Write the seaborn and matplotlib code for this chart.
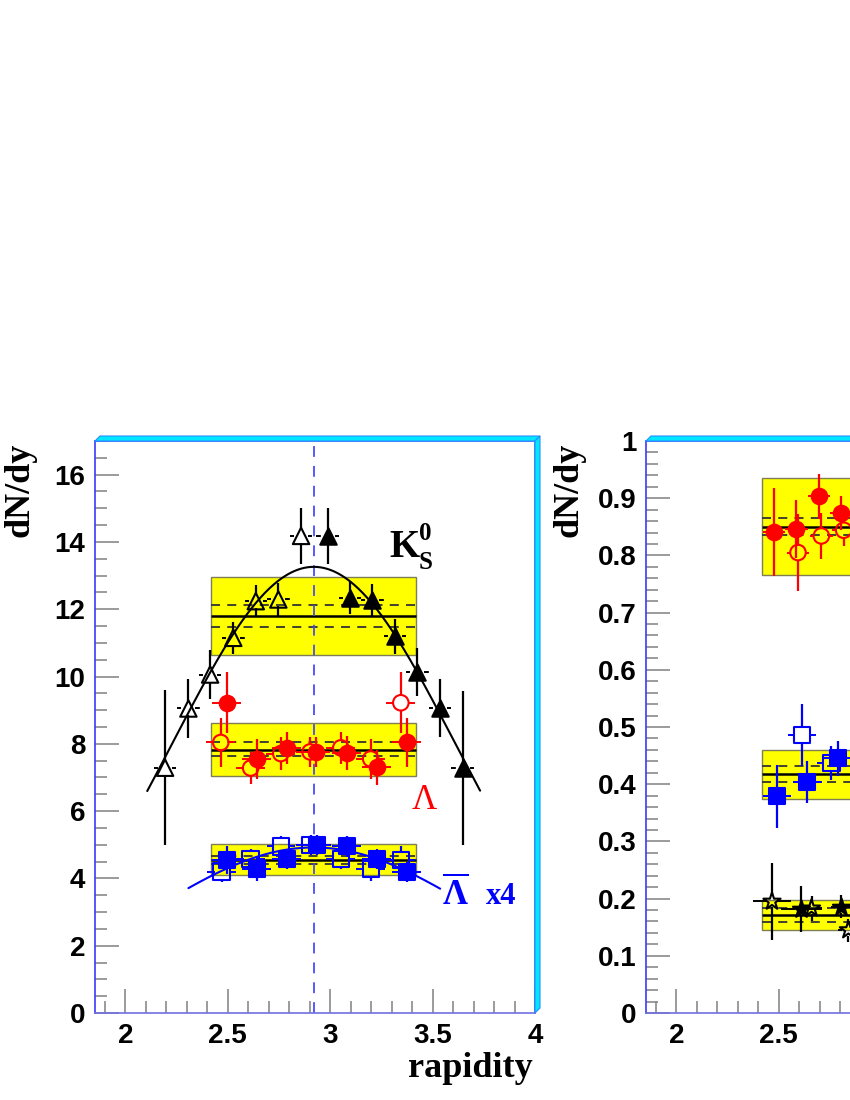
import matplotlib
matplotlib.use("Agg")
import matplotlib.pyplot as plt
import matplotlib.patches as mpatches
from matplotlib.ticker import MultipleLocator, FuncFormatter
import numpy as np
import pandas as pd
import seaborn as sns

# ---- left panel: K0s, Lambda, anti-Lambda x4 ----
k0_fill_x = [2.988, 3.097, 3.206, 3.317, 3.426, 3.537, 3.647]
k0_fill_y = [14.18, 12.34, 12.27, 11.20, 10.13, 9.07, 7.28]
k0_fill_err = [0.84, 0.47, 0.47, 0.52, 0.72, 0.87, 2.30]
k0_open_x = [2.194, 2.308, 2.414, 2.527, 2.637, 2.747, 2.858]
k0_open_y = [7.29, 9.05, 10.06, 11.15, 12.24, 12.29, 14.18]
k0_open_err = [2.30, 0.87, 0.72, 0.47, 0.47, 0.50, 0.84]

lam_fill_x = [2.495, 2.642, 2.788, 2.931, 3.081, 3.227, 3.374]
lam_fill_y = [9.22, 7.55, 7.88, 7.76, 7.73, 7.30, 8.04]
lam_fill_err = [0.90, 0.60, 0.47, 0.45, 0.50, 0.52, 0.74]
lam_open_x = [2.466, 2.612, 2.759, 2.902, 3.052, 3.198, 3.345]
lam_open_y = [8.04, 7.28, 7.71, 7.76, 7.88, 7.55, 9.22]
lam_open_err = [0.74, 0.47, 0.50, 0.45, 0.47, 0.60, 0.90]

alam_fill_x = [2.495, 2.642, 2.788, 2.934, 3.081, 3.227, 3.374]
alam_fill_y = [4.55, 4.28, 4.57, 5.00, 4.95, 4.58, 4.20]
alam_fill_err = [0.42, 0.35, 0.30, 0.30, 0.30, 0.30, 0.30]
alam_open_x = [2.470, 2.612, 2.760, 2.905, 3.052, 3.198, 3.345]
alam_open_y = [4.20, 4.58, 4.95, 5.00, 4.57, 4.28, 4.55]
alam_open_err = [0.30, 0.30, 0.30, 0.30, 0.30, 0.35, 0.42]

# bands: (low, high, mean, dashed low, dashed high)
k0_band = (10.63, 12.97, 11.80, 11.48, 12.12)
lam_band = (7.05, 8.62, 7.83, 7.63, 8.04)
alam_band = (4.09, 5.03, 4.55, 4.43, 4.68)
band_x = (2.42, 3.42)

# gaussian fits (amplitude, centre, sigma, x range)
k0_fit = (13.26, 2.92, 0.688, 2.107, 3.732)
alam_fit = (4.92, 2.92, 0.815, 2.308, 3.537)
mid_rapidity = 2.92

# ---- right panel (only partly visible) ----
xi_fill_x = [2.476, 2.586, 2.697, 2.806]
xi_fill_y = [0.841, 0.846, 0.903, 0.874]
xi_fill_err = [0.077, 0.050, 0.040, 0.030]
xi_open_x = [2.594, 2.708, 2.817]
xi_open_y = [0.805, 0.834, 0.844]
xi_open_err = [0.068, 0.040, 0.028]

axi_fill_x = [2.492, 2.640, 2.787]
axi_fill_y = [0.379, 0.404, 0.445]
axi_fill_err = [0.055, 0.037, 0.030]
axi_open_x = [2.614, 2.757]
axi_open_y = [0.486, 0.437]
axi_open_err = [0.055, 0.030]

om_fill_x = [2.611, 2.803]
om_fill_y = [0.182, 0.186]
om_fill_err = [0.040, 0.020]
om_fill_xerr = [0.10, 0.05]
om_open_x = [2.467, 2.660, 2.840]
om_open_y = [0.195, 0.183, 0.145]
om_open_err = [0.067, 0.022, 0.020]
om_open_xerr = [0.094, 0.05, 0.05]

xi_band = (0.766, 0.935, 0.850, 0.836, 0.866)
axi_band = (0.375, 0.459, 0.417, 0.403, 0.432)
om_band = (0.145, 0.198, 0.171, 0.159, 0.183)

sns.set_style("ticks")
plt.rcParams["font.family"] = ["Liberation Sans", "DejaVu Sans"]
plt.rcParams["font.weight"] = "bold"
plt.rcParams["text.color"] = "black"
plt.rcParams["mathtext.fontset"] = "custom"
plt.rcParams["mathtext.rm"] = "Liberation Serif"
plt.rcParams["mathtext.bf"] = "Liberation Serif:bold"
SERIF = ["Liberation Serif", "DejaVu Serif"]

W, H = 850, 1100
fig = plt.figure(figsize=(W / 100, H / 100), dpi=100)


def px_axes(x0, x1, ytop, ybot):
    return fig.add_axes([x0 / W, 1 - ybot / H, (x1 - x0) / W, (ybot - ytop) / H])


def draw_band(ax, band, zorder=1):
    lo, hi, mean, dlo, dhi = band
    ax.add_patch(mpatches.Rectangle((band_x[0], lo), band_x[1] - band_x[0], hi - lo,
                                    facecolor="#ffff00", edgecolor="#7f7f55", lw=1.0, zorder=zorder))
    ax.hlines(mean, *band_x, colors="black", lw=1.8, zorder=zorder + 0.1)
    ax.hlines([dlo, dhi], *band_x, colors="#333333", lw=1.3, linestyles=(0, (5, 4)), zorder=zorder + 0.1)


def points(ax, x, y, yerr, color, marker, filled, size, xerr=0.07, xdash=False, gap_px=7):
    x = np.asarray(x, float)
    y = np.asarray(y, float)
    yerr = np.asarray(yerr, float)
    xe = np.full(len(x), xerr) if np.isscalar(xerr) else np.asarray(xerr, float)
    # bars stop at the marker edge (ROOT style)
    bb = ax.get_position()
    x0, x1 = ax.get_xlim()
    y0, y1 = ax.get_ylim()
    gx = gap_px * (x1 - x0) / (bb.width * W)
    gy = gap_px * (y1 - y0) / (bb.height * H)
    ax.vlines(x, y + gy, y + np.maximum(yerr, gy), colors=color, lw=1.6, zorder=4)
    ax.vlines(x, y - np.maximum(yerr, gy), y - gy, colors=color, lw=1.6, zorder=4)
    ls = (0, (2.5, 2)) if xdash else "solid"
    ax.hlines(y, x + gx, x + np.maximum(xe, gx), colors=color, lw=1.4, linestyles=ls, zorder=4)
    ax.hlines(y, x - np.maximum(xe, gx), x - gx, colors=color, lw=1.4, linestyles=ls, zorder=4)
    df = pd.DataFrame({"x": x, "y": y})
    sns.scatterplot(data=df, x="x", y="y", ax=ax, marker=marker, s=size,
                    facecolor=color if filled else "none", edgecolor=color,
                    linewidth=1.5, zorder=5, legend=False)


def gauss_curve(ax, fit, color):
    amp, mu, sig, lo, hi = fit
    xs = np.linspace(lo, hi, 300)
    sns.lineplot(x=xs, y=amp * np.exp(-(xs - mu) ** 2 / (2 * sig ** 2)), ax=ax,
                 color=color, lw=1.5, zorder=3)


def style_axes(ax, ymax, ymajor, yminor, xlab_max=4.01):
    ax.set_xlim(1.852, 4.0)
    ax.set_ylim(0, ymax)
    ax.xaxis.set_major_locator(MultipleLocator(0.5))
    ax.xaxis.set_minor_locator(MultipleLocator(0.1))
    ax.yaxis.set_major_locator(MultipleLocator(ymajor))
    ax.yaxis.set_minor_locator(MultipleLocator(yminor))
    ax.xaxis.set_major_formatter(FuncFormatter(lambda v, p: f"{v:g}" if v < xlab_max else ""))
    ax.yaxis.set_major_formatter(FuncFormatter(lambda v, p: f"{v:g}"))
    ax.tick_params(which="major", direction="in", length=17, width=1.2, color="#8a8a8a",
                   labelcolor="black", labelsize=20, pad=7, top=False, right=False)
    ax.tick_params(which="minor", direction="in", length=8.5, width=1.2, color="#8a8a8a",
                   top=False, right=False)
    ax.spines["left"].set_color("#3a3aff")
    ax.spines["bottom"].set_color("#7070e0")
    ax.spines["top"].set_color("#3a6aff")
    ax.spines["right"].set_color("#3a6aff")
    for s in ax.spines.values():
        s.set_linewidth(1.2)


def finish_axes(ax):
    ax.set_xlabel("")
    ax.set_ylabel("")
    for lab in ax.get_xticklabels() + ax.get_yticklabels():
        lab.set_fontweight("bold")


def frame_border(x0, x1, ytop, ybot, d=5):
    top = [(x0, ytop), (x0 + d, ytop - d), (x1 + d, ytop - d), (x1, ytop)]
    right = [(x1, ytop), (x1 + d, ytop - d), (x1 + d, ybot - d), (x1, ybot)]
    for poly in (top, right):
        pts = [(px / W, 1 - py / H) for px, py in poly]
        fig.patches.append(mpatches.Polygon(pts, closed=True, transform=fig.transFigure,
                                            facecolor="#00e8ff", edgecolor="#2a8cff", lw=0.8))


# ---------------- left panel ----------------
L = (95, 535, 441, 1013)
ax1 = px_axes(*L)
style_axes(ax1, 17, 2, 0.5)
frame_border(*L)

for band in (k0_band, lam_band, alam_band):
    draw_band(ax1, band)
ax1.axvline(mid_rapidity, color="#4a4aff", lw=1.3, ls=(0, (6, 5)), zorder=2)

gauss_curve(ax1, k0_fit, "black")
gauss_curve(ax1, alam_fit, "#0000ff")

points(ax1, k0_open_x, k0_open_y, k0_open_err, "black", "^", False, 140, xerr=0.055, xdash=True)
points(ax1, k0_fill_x, k0_fill_y, k0_fill_err, "black", "^", True, 140, xerr=0.055, xdash=True)
points(ax1, lam_open_x, lam_open_y, lam_open_err, "#ff0000", "o", False, 125)
points(ax1, lam_fill_x, lam_fill_y, lam_fill_err, "#ff0000", "o", True, 125)
points(ax1, alam_open_x, alam_open_y, alam_open_err, "#0000ff", "s", False, 140)
points(ax1, alam_fill_x, alam_fill_y, alam_fill_err, "#0000ff", "s", True, 140)

ax1.text(3.362, 13.82, "K", family=SERIF, weight="bold", fontsize=28, color="black",
         ha="center", va="center")
ax1.text(3.462, 14.25, "0", family=SERIF, weight="bold", fontsize=18, color="black",
         ha="center", va="center")
ax1.text(3.465, 13.38, "S", family=SERIF, weight="bold", fontsize=18, color="black",
         ha="center", va="center")
ax1.text(3.461, 6.31, "Λ", family=SERIF, weight="normal", fontsize=25, color="#ff0000",
         ha="center", va="center")
ax1.text(3.610, 3.55, r"$\overline{\Lambda}$", fontsize=25, color="#0000ff",
         ha="center", va="center")
ax1.text(3.836, 3.45, "x4", family=SERIF, weight="bold", fontsize=22, color="#0000ff",
         ha="center", va="center")
finish_axes(ax1)

fig.text(20 / W, 1 - 443 / H, "dN/dy", family=SERIF, weight="bold", fontsize=26,
         color="black", rotation=90, ha="center", va="top")
fig.text(533 / W, 1 - 1052 / H, "rapidity", family=SERIF, weight="bold", fontsize=26,
         color="black", ha="right", va="top")

# ---------------- right panel ----------------
R = (646, 1086, 441, 1013)
ax2 = px_axes(*R)
style_axes(ax2, 1.0, 0.1, 0.02, xlab_max=2.8)
frame_border(*R)

for band in (xi_band, axi_band, om_band):
    draw_band(ax2, band)

points(ax2, xi_open_x, xi_open_y, xi_open_err, "#ff0000", "o", False, 125, xerr=0.055)
points(ax2, xi_fill_x, xi_fill_y, xi_fill_err, "#ff0000", "o", True, 125, xerr=0.055)
points(ax2, axi_open_x, axi_open_y, axi_open_err, "#0000ff", "s", False, 140)
points(ax2, axi_fill_x, axi_fill_y, axi_fill_err, "#0000ff", "s", True, 140)
points(ax2, om_open_x, om_open_y, om_open_err, "black", "*", False, 170, xerr=om_open_xerr, gap_px=6)
points(ax2, om_fill_x, om_fill_y, om_fill_err, "black", "*", True, 170, xerr=om_fill_xerr, gap_px=6)
finish_axes(ax2)

fig.text(569 / W, 1 - 443 / H, "dN/dy", family=SERIF, weight="bold", fontsize=26,
         color="black", rotation=90, ha="center", va="top")

fig.savefig("out.png", dpi=100, facecolor="white")
